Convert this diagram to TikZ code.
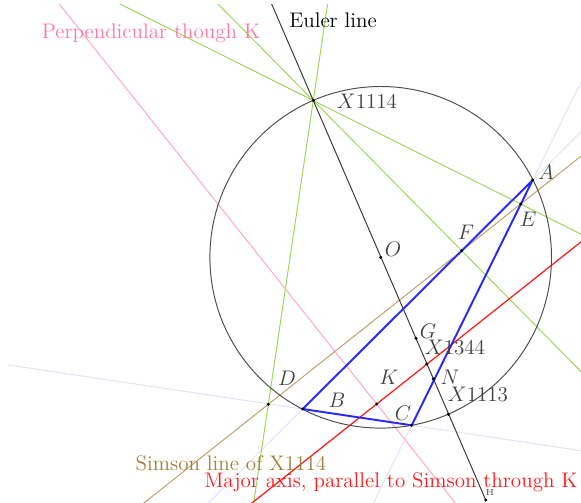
\documentclass[tikz,border=0pt]{standalone}
\usepackage{amsmath,amssymb}
\usepackage{tikz}
\usetikzlibrary{calc}
\usepackage{xcolor}
\definecolor{eul}{RGB}{55,55,55}
\definecolor{perp}{RGB}{255,165,195}
\definecolor{perptext}{RGB}{255,120,160}
\definecolor{feet}{RGB}{155,215,90}
\definecolor{sim}{RGB}{190,160,105}
\definecolor{simtext}{RGB}{160,128,55}
\definecolor{major}{RGB}{255,25,25}
\definecolor{tri}{RGB}{40,40,250}
\definecolor{side}{RGB}{230,224,250}
\tikzset{
  ln/.style={line width=0.55pt, color=#1},
  ptlab/.style={font=\large, text=black!75, inner sep=1pt},
  cap/.style={font=\large, text=#1, inner sep=1pt},
  dot/.style={fill=black},
}

\begin{document}
\begin{tikzpicture}[x=0.02cm, y=-0.02cm]
  \useasboundingbox (0,0) rectangle (581,503);
  % points of the figure
  \coordinate (O) at (380.7,257.3);
  \coordinate (A) at (532.7,180);
  \coordinate (B) at (302.7,409);
  \coordinate (C) at (411.7,425.3);
  \coordinate (X1114) at (313.3,100.5);
  \coordinate (D) at (268.3,404.3);
  \coordinate (E) at (520.7,204);
  \coordinate (F) at (461.7,250.7);
  \coordinate (G) at (416,338.3);
  \coordinate (X1344) at (426.7,364);
  \coordinate (N) at (433.3,379);
  \coordinate (X1113) at (448.3,414.3);
  \coordinate (K) at (376.7,404);
  \coordinate (H) at (485.7,500);
  \coordinate (kr) at ($(K)+(E)-(D)$);
  \coordinate (kp) at ($(K)+(200.3,252.4)$);
  \begin{scope}
    \clip (8,5) rectangle (581,503);
    % side lines
    \draw[ln=side] ($(B)!-3!(C)$) -- ($(B)!3!(C)$);
    \draw[ln=side] ($(C)!-0.5!(A)$) -- ($(C)!1.5!(A)$);
    \draw[ln=side] ($(B)!-0.5!(A)$) -- ($(B)!1.3!(A)$);
    % perpendiculars from X1114
    \draw[ln=feet] ($(X1114)!-1!(D)$) -- ($(X1114)!2!(D)$);
    \draw[ln=feet] ($(X1114)!-1.5!(E)$) -- ($(X1114)!2!(E)$);
    \draw[ln=feet] ($(X1114)!-1!(F)$) -- ($(X1114)!3!(F)$);
    \draw[ln=perp] ($(K)!-2!(kp)$) -- (kp);
    \draw[ln=sim] ($(D)!-1!(E)$) -- ($(D)!2!(E)$);
    \draw[ln=major, line width=0.7pt] ($(K)!-1!(kr)$) -- (kr);
    \draw[ln=eul] ($(X1114)!-0.3!(H)$) -- (H);
  \end{scope}
  \draw[ln=black!70] (O) circle (170.8);
  \draw[tri, line width=1.1pt, line join=round] (A) -- (B) -- (C) -- cycle;
  \foreach \p in {O,A,B,C,X1114,D,E,F,G,X1344,N,X1113,K,H}
    \fill[dot] (\p) circle (1.7);
  % labels
  \node[cap=black] (leul) at (333,20) {Euler line};
  \node[cap=perptext] (lperp) at (151,33) {Perpendicular though K};
  \node[cap=simtext] (lsim) at (231,463) {Simson line of X1114};
  \node[cap=major] (lmaj) at (391,482) {Major axis, parallel to Simson through K};
  \node[ptlab] (lX1114) at (367,101) {$X1114$};
  \node[ptlab] (lA) at (546,172) {$A$};
  \node[ptlab] (lE) at (528,219) {$E$};
  \node[ptlab] (lF) at (466,232) {$F$};
  \node[ptlab] (lO) at (393,249) {$O$};
  \node[ptlab] (lG) at (428,331) {$G$};
  \node[ptlab] (lX1344) at (455,347) {$X1344$};
  \node[ptlab] (lN) at (450,377) {$N$};
  \node[ptlab] (lX1113) at (478,394) {$X1113$};
  \node[ptlab] (lK) at (389,377) {$K$};
  \node[ptlab] (lD) at (287,378) {$D$};
  \node[ptlab] (lB) at (337,400) {$B$};
  \node[ptlab] (lC) at (403,413) {$C$};
  \node[font=\tiny, text=black!70, inner sep=0pt] (lH) at (490,492) {H};
\end{tikzpicture}
\end{document}
